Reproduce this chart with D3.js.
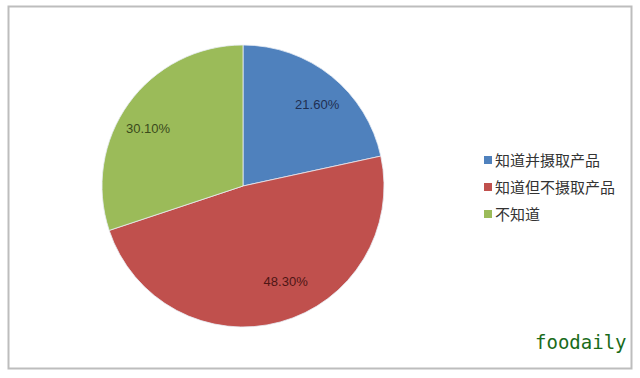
<!DOCTYPE html>
<html>
<head>
<meta charset="utf-8">
<script src="https://cdn.jsdelivr.net/npm/d3@7"></script>
<style>
  body { margin: 0; background: #fff; }
  svg { display: block; }
</style>
</head>
<body>
<div id="chart"></div>
<script>
var categories = ["知道并摄取产品", "知道但不摄取产品", "不知道"];
var values = [21.6, 48.3, 30.1];
var labels = ["21.60%", "48.30%", "30.10%"];

var colors = ["#4f81bd", "#c0504d", "#9bbb59"];
var labelColors = ["#1f2f52", "#4e1615", "#3a4a1c"];
// small pixel nudges so labels sit where Excel put them
var labelNudge = [[6, 3], [14, -9], [-7, 6]];

var width = 640, height = 378;
var cx = 243, cy = 186, radius = 141;

var svg = d3.select("#chart")
  .append("svg")
  .attr("width", width)
  .attr("height", height);

// outer frame
svg.append("rect")
  .attr("x", 8.5)
  .attr("y", 6.5)
  .attr("width", 623)
  .attr("height", 362)
  .attr("fill", "#fff")
  .attr("stroke", "#bdbdbd")
  .attr("stroke-width", 2);

var data = categories.map(function(c, i) {
  return { name: c, value: values[i], label: labels[i], idx: i };
});

var pie = d3.pie()
  .sort(null)
  .value(function(d) { return d.value; });

var arc = d3.arc()
  .innerRadius(0)
  .outerRadius(radius);

var labelArc = d3.arc()
  .innerRadius(radius * 0.77)
  .outerRadius(radius * 0.77);

var g = svg.append("g")
  .attr("transform", "translate(" + cx + "," + cy + ")");

var arcs = pie(data);

g.selectAll(".slice")
  .data(arcs)
  .enter()
  .append("path")
  .attr("class", "slice")
  .attr("d", arc)
  .attr("fill", function(d) { return colors[d.data.idx]; })
  .attr("stroke", "#e8eef5")
  .attr("stroke-width", 0.8);

g.selectAll(".lbl")
  .data(arcs)
  .enter()
  .append("text")
  .attr("class", "lbl")
  .attr("transform", function(d) {
    var c = labelArc.centroid(d);
    var n = labelNudge[d.data.idx];
    return "translate(" + (c[0] + n[0]) + "," + (c[1] + n[1]) + ")";
  })
  .attr("text-anchor", "middle")
  .attr("dy", "0.35em")
  .style("font-family", "'Liberation Sans', 'DejaVu Sans', sans-serif")
  .style("font-size", "13px")
  .attr("fill", function(d) { return labelColors[d.data.idx]; })
  .text(function(d) { return d.data.label; });

// legend
var legend = svg.append("g")
  .attr("transform", "translate(484,156)");

var rows = legend.selectAll(".row")
  .data(data)
  .enter()
  .append("g")
  .attr("class", "row")
  .attr("transform", function(d, i) { return "translate(0," + (i * 27) + ")"; });

rows.append("rect")
  .attr("width", 8)
  .attr("height", 8)
  .attr("fill", function(d) { return colors[d.idx]; });

rows.append("text")
  .attr("x", 11)
  .attr("y", 4)
  .attr("dy", "0.38em")
  .style("font-family", "'Noto Sans CJK SC', sans-serif")
  .style("font-size", "15px")
  .attr("fill", "#333")
  .text(function(d) { return d.name; });

// watermark
svg.append("text")
  .attr("x", 535)
  .attr("y", 349)
  .style("font-family", "'DejaVu Sans Mono', monospace")
  .style("font-size", "19px")
  .attr("fill", "#1a6b1a")
  .text("foodaily");
</script>
</body>
</html>
